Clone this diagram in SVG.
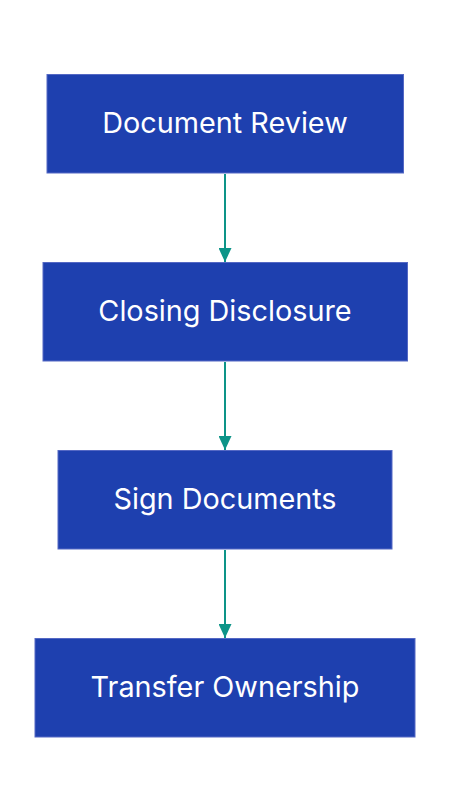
<svg xmlns="http://www.w3.org/2000/svg" width="450" height="812" viewBox="0 0 450 812">
<style>
.box{fill:#1e40af;stroke:#5468c4;stroke-width:1}
.lbl{font-family:Inter,"Liberation Sans",sans-serif;font-size:28.8px;fill:#ffffff;text-anchor:middle;dominant-baseline:central}
.edge{stroke:#0d9488;stroke-width:2;fill:none}
</style>
<defs>
<marker id="arr" viewBox="0 0 14 13" refX="14" refY="6.5" markerWidth="14" markerHeight="13" markerUnits="userSpaceOnUse" orient="auto">
<path d="M0,0 L14,6.5 L0,13 Z" fill="#0d9488"/>
</marker>
</defs>
<rect width="450" height="812" fill="#ffffff"/>
<g id="connectors">
<line class="edge" x1="225" y1="174" x2="225" y2="262" marker-end="url(#arr)"/>
<line class="edge" x1="225" y1="362" x2="225" y2="450" marker-end="url(#arr)"/>
<line class="edge" x1="225" y1="550" x2="225" y2="638" marker-end="url(#arr)"/>
</g>
<g id="node1"><rect class="box" x="47" y="74.5" width="356.5" height="98.5"/><text class="lbl" x="225" y="122.5">Document Review</text></g>
<g id="node2"><rect class="box" x="43" y="262.5" width="364.5" height="98.5"/><text class="lbl" x="225" y="310.5">Closing Disclosure</text></g>
<g id="node3"><rect class="box" x="58" y="450.5" width="334" height="98.5"/><text class="lbl" x="225" y="498.5">Sign Documents</text></g>
<g id="node4"><rect class="box" x="35" y="638.5" width="380" height="98.5"/><text class="lbl" x="225" y="686.5">Transfer Ownership</text></g>
</svg>
